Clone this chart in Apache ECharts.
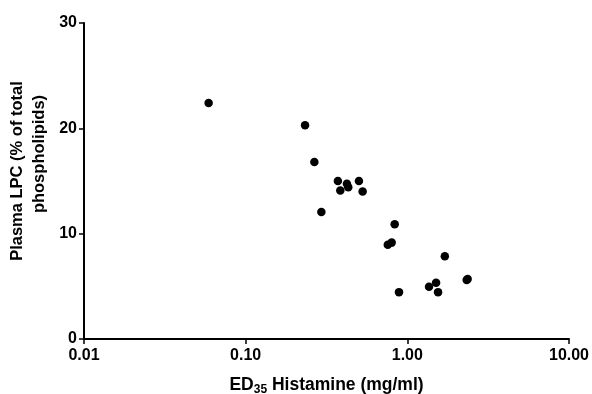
<!DOCTYPE html>
<html>
<head>
<meta charset="utf-8">
<script src="https://cdn.jsdelivr.net/npm/echarts@6/dist/echarts.min.js"></script>
<style>
  html, body { margin: 0; padding: 0; background: #fff; }
  #main { width: 592px; height: 394px; }
</style>
</head>
<body>
<div id="main"></div>
<script>
// ED35 histamine (mg/ml) vs plasma LPC (% of total phospholipids)
const ed35 = [0.059, 0.233, 0.266, 0.294, 0.372, 0.385, 0.423, 0.431, 0.502, 0.529,
  0.757, 0.80, 0.835, 0.888, 1.362, 1.506, 1.549, 1.706, 2.33, 2.36];
const lpc = [22.4, 20.3, 16.8, 12.05, 15.0, 14.1, 14.75, 14.4, 15.0, 14.0,
  8.95, 9.15, 10.9, 4.45, 4.95, 5.35, 4.45, 7.85, 5.6, 5.7];
const xTicks = [0.01, 0.1, 1, 10];
const yTicks = [0, 10, 20, 30];

const chart = echarts.init(document.getElementById("main"));
const font = "Liberation Sans, Arial, sans-serif";
const yNameStyle = { fontFamily: font, fontWeight: "bold", fontSize: 16.5, color: "#000", lineHeight: 22.5 };

const option = {
  animation: false,
  grid: { left: 84, right: 23, top: 23, bottom: 55, outerBoundsMode: "none", containLabel: false },
  xAxis: {
    type: "log",
    logBase: 10,
    min: xTicks[0],
    max: xTicks[xTicks.length - 1],
    name: "{n|ED}{s|35}{n| Histamine (mg/ml)}",
    nameLocation: "middle",
    nameGap: 35,
    nameTextStyle: {
      rich: {
        n: { fontFamily: font, fontWeight: "bold", fontSize: 17.5, color: "#000" },
        s: { fontFamily: font, fontWeight: "bold", fontSize: 12, color: "#000", verticalAlign: "bottom", padding: [10, 0, 0, 0] },
      },
    },
    axisLine: { lineStyle: { color: "#000", width: 2 } },
    axisTick: { inside: false, length: 5, lineStyle: { color: "#000", width: 1.5 } },
    axisLabel: {
      color: "#000", fontFamily: font, fontWeight: "bold", fontSize: 16, margin: 9,
      formatter: (v) => Number(v).toFixed(2),
    },
    splitLine: { show: false },
    minorTick: { show: false },
  },
  yAxis: {
    type: "value",
    min: yTicks[0],
    max: yTicks[yTicks.length - 1],
    interval: 10,
    name: "{a|Plasma LPC (% of total}\n{b|phospholipids)}",
    nameLocation: "middle",
    nameGap: 26.5,
    nameTextStyle: {
      padding: [0, 0, 0, 20],
      rich: {
        a: yNameStyle,
        b: Object.assign({}, yNameStyle, { padding: [0, 0, 0, 34] }),
      },
    },
    axisLine: { show: true, lineStyle: { color: "#000", width: 2 } },
    axisTick: { show: true, length: 5, lineStyle: { color: "#000", width: 1.5 } },
    axisLabel: { color: "#000", fontFamily: font, fontWeight: "bold", fontSize: 16, margin: 7 },
    splitLine: { show: false },
  },
  series: [
    {
      type: "scatter",
      symbol: "circle",
      symbolSize: 8.5,
      itemStyle: { color: "#000", opacity: 1 },
      data: ed35.map((x, i) => [x, lpc[i]]),
    },
  ],
};
chart.setOption(option);
</script>
</body>
</html>
